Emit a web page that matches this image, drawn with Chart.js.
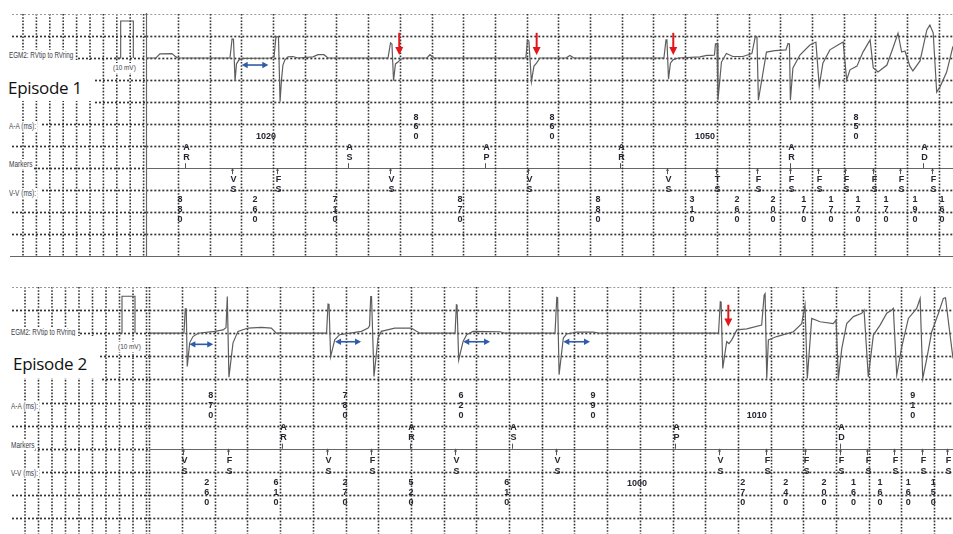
<!DOCTYPE html>
<html><head><meta charset="utf-8">
<script src="https://cdn.jsdelivr.net/npm/chart.js@4.4.1/dist/chart.umd.min.js"></script>
<style>
html,body{margin:0;padding:0;background:#fff;}
#wrap{position:relative;width:953px;height:534px;overflow:hidden;background:#fff;}
canvas{position:absolute;left:0;}
.lbl{position:absolute;font-family:"Liberation Sans",Arial,sans-serif;font-size:9px;line-height:10px;color:#3e3e48;background:#fff;white-space:nowrap;transform-origin:left center;padding-right:1px;}
.epbox{position:absolute;background:#fff;}
.ep{position:absolute;font-family:"Open Sans","Noto Sans",sans-serif;font-size:17px;line-height:17px;color:#111;white-space:nowrap;letter-spacing:-0.3px;}
</style></head>
<body>
<div id="wrap">
<canvas id="ep1" width="953" height="262" style="top:0"></canvas>
<canvas id="ep2" width="953" height="272" style="top:262px"></canvas>

<div class="lbl" style="left:9px;top:50px;transform:scaleX(0.7)">EGM2: RVtip to RVring</div>
<div class="lbl" style="left:113px;top:63px;font-size:8px;transform:scaleX(0.8)">(10 mV)</div>
<div class="epbox" style="left:0;top:60px;width:95px;height:41px"></div>
<div class="ep" style="left:8px;top:79px">Episode 1</div>
<div class="lbl" style="left:9px;top:121px;transform:scaleX(0.72)">A-A (ms):</div>
<div class="lbl" style="left:9px;top:159px;transform:scaleX(0.72)">Markers</div>
<div class="lbl" style="left:9px;top:188px;transform:scaleX(0.72)">V-V (ms):</div>

<div class="lbl" style="left:11px;top:327px;transform:scaleX(0.7)">EGM2: RVtip to RVring</div>
<div class="lbl" style="left:118px;top:342px;font-size:8px;transform:scaleX(0.8)">(10 mV)</div>
<div class="epbox" style="left:0;top:336px;width:100px;height:42px"></div>
<div class="ep" style="left:13px;top:355px">Episode 2</div>
<div class="lbl" style="left:11px;top:401px;transform:scaleX(0.72)">A-A (ms):</div>
<div class="lbl" style="left:11px;top:440px;transform:scaleX(0.72)">Markers</div>
<div class="lbl" style="left:11px;top:468px;transform:scaleX(0.72)">V-V (ms):</div>
</div>

<script>
// ===== Episode 1 data (time in ms, EGM in mV) =====
const ep1Egm = [[5,0],[61,0],[86,1.1],[162,1.2],[187,0.3],[200,0],
[528,0],[541,5.1],[550,5.1],[560,-6.2],[569,-1.6],[585,-0.5],[610,-0.1],
[780,0],[806,0.3],[818,5.7],[834,5.7],[844,-11.8],[853,-5.9],[862,-1.9],[875,-0.5],[894,0.3],[925,0.4],[957,0],
[1052,0.3],[1083,0.9],[1121,0.9],[1146,0],
[1525,0],[1541,4.1],[1550,3.8],[1560,-6.1],[1572,-1.6],[1588,-1.1],[1601,-0.5],[1620,0],
[1771,0],[1790,0.9],[1815,0],
[2395,0],[2405,4.9],[2414,4.6],[2430,-6.4],[2446,-2.2],[2462,-1.4],[2484,0],
[2648,0],[2673,0.7],[2698,0],
[3266,0],[3279,4.9],[3285,4.9],[3295,-5.7],[3307,-1.4],[3323,-0.5],[3355,0],
[3493,0.3],[3537,0.7],[3569,0.7],[3585,0.8],[3591,3.8],[3601,3.9],[3607,-11.4],[3629,-1.1],[3660,1.2],[3701,0.4],[3764,0.4],[3821,1.2],[3843,5.9],[3853,5.7],[3862,-11.4],[3878,-7.3],[3913,1.6],[3966,2.0],[4036,2.2],[4049,3.9],[4058,3.8],[4064,-11.4],[4080,-2.7],[4124,0.8],[4187,3.5],[4225,4.3],[4246,-7.6],[4269,-1.4],[4313,2.2],[4364,3.5],[4397,4.3],[4419,-5.9],[4440,-3.2],[4484,-2.2],[4522,1.6],[4567,4.9],[4587,-2.7],[4617,-3.8],[4673,-1.9],[4711,2.7],[4743,6.7],[4766,1.6],[4787,1.9],[4818,-2.2],[4837,-3.5],[4882,-0.8],[4925,7.6],[4944,8.9],[4965,6.8],[4987,-9.2],[5008,-7.8],[5050,-3.8],[5090,3.2]];
const ep1AtrialTimes = [245,1273,2137,2989,4061,4900];
const ep1AtrialCodes = ['AR','AS','AP','AR','AR','AD'];
const ep1VentTimes = [541,825,1538,2408,3285,3594,3853,4061,4238,4408,4585,4755,4957];
const ep1VentCodes = ['VS','FS','VS','VS','VS','TS','FS','FS','FS','FS','FS','FS','FS'];
const ep1AATimes = [755,1702,2560,3525,4478];
const ep1AALabels = ['1020','860','860','1050','850'];
const ep1VVTimes = [213,686,1190,1979,2850,3443,3727,3954,4149,4320,4490,4667,4850,5020];
const ep1VVLabels = ['880','260','710','870','880','310','260','200','170','170','170','170','190','160'];
const ep1RedArrows = [[1596,6.8,0.8],[2463,6.8,0.8],[3325,6.8,0.8]];
const ep1BlueArrows = [[602,770,-1.9]];

// ===== Episode 2 data =====
const ep2Egm = [[0,0],[212,0],[220,6.6],[226,6.6],[232,-9.0],[247,-2.6],[267,-0.9],[298,0],[400,0.5],[451,0.9],[469,1.5],[477,9.9],[481,9.9],[487,-11.9],[512,-2.6],[542,0.5],[604,1.4],[685,1.6],[746,1.4],[777,0],
[1084,0],[1093,7.9],[1099,7.8],[1109,-6.3],[1134,-1.8],[1164,-0.4],[1297,0.5],[1338,1.4],[1347,2.0],[1354,9.9],[1359,9.9],[1374,-11.7],[1399,-1.3],[1419,0.5],[1501,1.4],[1602,1.4],[1654,0],
[1870,0],[1878,7.7],[1882,7.6],[1892,-7.2],[1919,-2.2],[1941,-0.4],[1980,0.5],[2145,0.4],[2175,0],
[2481,0],[2492,9.7],[2497,9.6],[2506,-11.2],[2532,-1.3],[2553,-0.2],[2614,0.3],[2714,0.3],[2757,0],
[3481,0],[3492,8.5],[3497,8.4],[3507,-9.5],[3531,-2.3],[3545,-2.8],[3562,-1.8],[3593,0.9],[3654,1.2],[3745,2.2],[3760,10.3],[3766,10.7],[3776,-12.2],[3786,-1.8],[3837,-0.9],[3939,0.4],[3990,2.6],[4010,7.6],[4024,-12.2],[4051,4.0],[4102,3.1],[4183,2.6],[4200,3.6],[4214,-12.2],[4235,-4.1],[4265,2.6],[4306,4.5],[4357,5.4],[4371,6.3],[4397,-11.8],[4428,-0.5],[4469,2.2],[4510,5.4],[4541,6.3],[4550,6.7],[4571,-11.3],[4602,-3.6],[4642,4.0],[4693,6.7],[4714,9.4],[4730,-12.2],[4755,-6.8],[4785,0.4],[4826,5.4],[4856,9.4],[4869,9.6],[4887,3.1],[4915,-6.8]];
const ep2AtrialTimes = [810,1594,2216,3215,4224];
const ep2AtrialCodes = ['AR','AR','AS','AP','AD'];
const ep2VentTimes = [204,480,1085,1354,1870,2487,3486,3770,4010,4224,4388,4555,4724,4877];
const ep2VentCodes = ['VS','FS','VS','FS','VS','VS','VS','FS','FS','FS','FS','FS','FS','FS'];
const ep2AATimes = [376,1197,1906,2713,3715,4669];
const ep2AALabels = ['870','780','620','990','1010','910'];
const ep2VVTimes = [351,775,1197,1601,2186,2983,3629,3892,4126,4306,4469,4642,4795];
const ep2VVLabels = ['260','610','270','520','610','1000','270','240','200','160','160','160','150'];
const ep2RedArrows = [[3541,7.7,1.8]];
const ep2BlueArrows = [[245,391,-3.0],[1136,1295,-2.3],[1920,2084,-2.3],[2532,2695,-2.3]];

const GRID_MS = 200;
const CAL_MV = 10;

// layout / style per episode (not data)
const EP = {
  ep1: { egm: ep1Egm, aT: ep1AtrialTimes, aC: ep1AtrialCodes, vT: ep1VentTimes, vC: ep1VentCodes,
         aaT: ep1AATimes, aaL: ep1AALabels, vvT: ep1VVTimes, vvL: ep1VVLabels, red: ep1RedArrows, blue: ep1BlueArrows,
         pad: {left:146.3, top:14, right:0, bottom:6}, xMax: 5090, rowMax: 11, egmMin: -53.51, egmMax: 11.89,
         leftSolid: true, bottomSolid: true, colStart: 23, colStep: 13.4, rowStarts: [12,12,78,95,95,42,12,34,42,12,12],
         pulse: [120.7,133.3], panelLeft: 10 },
  ep2: { egm: ep2Egm, aT: ep2AtrialTimes, aC: ep2AtrialCodes, vT: ep2VentTimes, vC: ep2VentCodes,
         aaT: ep2AATimes, aaL: ep2AALabels, vvT: ep2VVTimes, vvL: ep2VVLabels, red: ep2RedArrows, blue: ep2BlueArrows,
         pad: {left:149.3, top:25, right:0, bottom:0}, xMax: 4915, rowMax: 10.69, egmMin: -54.25, egmMax: 12.49,
         leftSolid: false, bottomSolid: false, colStart: 25, colStep: 13.5, rowStarts: [12,12,80,100,102,42,12,34,42,12,12],
         pulse: [122,135], panelLeft: 12 }
};

const DOT = '#333';
function hline(ctx, x0, x1, y, style){
  ctx.save();
  ctx.beginPath();
  if (style==='solid'){ ctx.setLineDash([]); ctx.strokeStyle='#666'; ctx.lineWidth=1.2; }
  else if (style==='light'){ ctx.setLineDash([2,2]); ctx.strokeStyle='#9a9a9a'; ctx.lineWidth=1; }
  else { ctx.setLineDash([2,2]); ctx.strokeStyle=DOT; ctx.lineWidth=1.7; }
  ctx.moveTo(x0, y); ctx.lineTo(x1, y); ctx.stroke();
  ctx.restore();
}
function vline(ctx, x, y0, y1, style){
  ctx.save();
  ctx.beginPath();
  if (style==='solid'){ ctx.setLineDash([]); ctx.strokeStyle='#666'; ctx.lineWidth=1.2; }
  else { ctx.setLineDash([1.6,1.6]); ctx.strokeStyle=DOT; ctx.lineWidth=1.6; }
  ctx.moveTo(x, y0); ctx.lineTo(x, y1); ctx.stroke();
  ctx.restore();
}

const decor = {
  id: 'egmDecor',
  beforeDatasetsDraw(chart){
    const e = EP[chart.canvas.id]; const ctx = chart.ctx; const a = chart.chartArea;
    const xs = chart.scales.x, ys = chart.scales.y, ye = chart.scales.yEgm;
    const yTop = ys.getPixelForValue(0), yBot = ys.getPixelForValue(Math.min(11, e.rowMax));
    for (let k=0;k<10;k++){ vline(ctx, e.colStart + k*e.colStep, yTop, yBot, 'dot'); }
    for (let r=0;r<=10;r++){
      const y = Math.round(ys.getPixelForValue(r))+0.5;
      hline(ctx, e.rowStarts[r], a.left, y, r===0?'light':'dot');
      hline(ctx, a.left, a.right, y, r===0?'light':(r===7?'solid':'dot'));
    }
    for (let t=0; t<=xs.max; t+=GRID_MS){
      const x = Math.round(xs.getPixelForValue(t))+0.5;
      if (t===0 && e.leftSolid) vline(ctx, x, yTop-1, yBot+1, 'solid');
      else vline(ctx, x, yTop, yBot, 'dot');
    }
    if (e.bottomSolid){ const y = Math.round(ys.getPixelForValue(11))+0.5; hline(ctx, e.panelLeft, a.right, y, 'solid'); }
    const y0 = ye.getPixelForValue(0), y10 = ye.getPixelForValue(CAL_MV);
    ctx.save(); ctx.setLineDash([]); ctx.strokeStyle='#555'; ctx.lineWidth=1.1; ctx.beginPath();
    ctx.moveTo(e.pulse[0]-6, y0); ctx.lineTo(e.pulse[0], y0); ctx.lineTo(e.pulse[0], y10);
    ctx.lineTo(e.pulse[1], y10); ctx.lineTo(e.pulse[1], y0); ctx.stroke(); ctx.restore();
  },
  afterDatasetsDraw(chart){
    const e = EP[chart.canvas.id]; const ctx = chart.ctx;
    const xs = chart.scales.x, ys = chart.scales.y, ye = chart.scales.yEgm;
    ctx.save();
    ctx.font = 'bold 9px "Liberation Sans", Arial, sans-serif';
    ctx.textAlign = 'center'; ctx.textBaseline = 'middle';
    ctx.fillStyle = '#262630'; ctx.strokeStyle = '#555'; ctx.lineWidth = 1;
    const yLine = ys.getPixelForValue(7);
    e.aT.forEach((t,i)=>{
      const x = Math.round(xs.getPixelForValue(t))+0.5;
      ctx.beginPath(); ctx.moveTo(x, ys.getPixelForValue(6.78)); ctx.lineTo(x, yLine); ctx.stroke();
      const c = e.aC[i];
      ctx.fillText(c[0], x+1, ys.getPixelForValue(6.08));
      ctx.fillText(c[1], x+1, ys.getPixelForValue(6.53));
    });
    e.vT.forEach((t,i)=>{
      const x = Math.round(xs.getPixelForValue(t))+0.5;
      ctx.beginPath(); ctx.moveTo(x, yLine); ctx.lineTo(x, ys.getPixelForValue(7.28)); ctx.stroke();
      ctx.beginPath(); ctx.moveTo(x-1.5, ys.getPixelForValue(7.1)); ctx.lineTo(x+1.5, ys.getPixelForValue(7.1)); ctx.stroke();
      const c = e.vC[i];
      ctx.fillText(c[0], x+1, ys.getPixelForValue(7.53));
      ctx.fillText(c[1], x+1, ys.getPixelForValue(7.99));
    });
    const stack = (txt, x, r0, step)=>{ for (let j=0;j<txt.length;j++) ctx.fillText(txt[j], x, ys.getPixelForValue(r0+j*step)); };
    e.aaT.forEach((t,i)=>{
      const x = xs.getPixelForValue(t), s = e.aaL[i];
      if (s.length>3) ctx.fillText(s, x, ys.getPixelForValue(5.57)); else stack(s, x, 4.71, 0.42);
    });
    e.vvT.forEach((t,i)=>{
      const x = xs.getPixelForValue(t), s = e.vvL[i];
      if (s.length>3) ctx.fillText(s, x, ys.getPixelForValue(8.52)); else stack(s, x, 8.45, 0.44);
    });
    ctx.strokeStyle = '#e3161b'; ctx.fillStyle = '#e3161b'; ctx.lineWidth = 2;
    e.red.forEach(([t, top, tip])=>{
      const x = xs.getPixelForValue(t), y1 = ye.getPixelForValue(top), y2 = ye.getPixelForValue(tip);
      ctx.beginPath(); ctx.moveTo(x, y1); ctx.lineTo(x, y2-6); ctx.stroke();
      ctx.beginPath(); ctx.moveTo(x-4, y2-8); ctx.lineTo(x+4, y2-8); ctx.lineTo(x, y2); ctx.closePath(); ctx.fill();
    });
    ctx.strokeStyle = '#2f5ba8'; ctx.fillStyle = '#2f5ba8'; ctx.lineWidth = 1.6;
    e.blue.forEach(([t1, t2, mv])=>{
      const x1 = xs.getPixelForValue(t1), x2 = xs.getPixelForValue(t2), y = ye.getPixelForValue(mv);
      ctx.beginPath(); ctx.moveTo(x1+4, y); ctx.lineTo(x2-4, y); ctx.stroke();
      ctx.beginPath(); ctx.moveTo(x1, y); ctx.lineTo(x1+6, y-3.2); ctx.lineTo(x1+6, y+3.2); ctx.closePath(); ctx.fill();
      ctx.beginPath(); ctx.moveTo(x2, y); ctx.lineTo(x2-6, y-3.2); ctx.lineTo(x2-6, y+3.2); ctx.closePath(); ctx.fill();
    });
    ctx.restore();
  }
};

function makeChart(id){
  const e = EP[id];
  return new Chart(document.getElementById(id), {
    type: 'line',
    data: { datasets: [{
      label: 'EGM2: RVtip to RVring',
      data: e.egm.map(([t,v])=>({x:t, y:v})),
      yAxisID: 'yEgm', borderColor: '#5e5e5e', borderWidth: 1.2,
      pointRadius: 0, tension: 0, fill: false
    }]},
    options: {
      responsive: false, animation: false, devicePixelRatio: 1,
      layout: { padding: e.pad },
      plugins: { legend: {display:false}, tooltip: {enabled:false} },
      scales: {
        x: { type:'linear', min:0, max:e.xMax, display:false },
        y: { type:'linear', min:0, max:e.rowMax, reverse:true, display:false },
        yEgm: { type:'linear', min:e.egmMin, max:e.egmMax, display:false }
      }
    },
    plugins: [decor]
  });
}
makeChart('ep1');
makeChart('ep2');
</script>
</body></html>
